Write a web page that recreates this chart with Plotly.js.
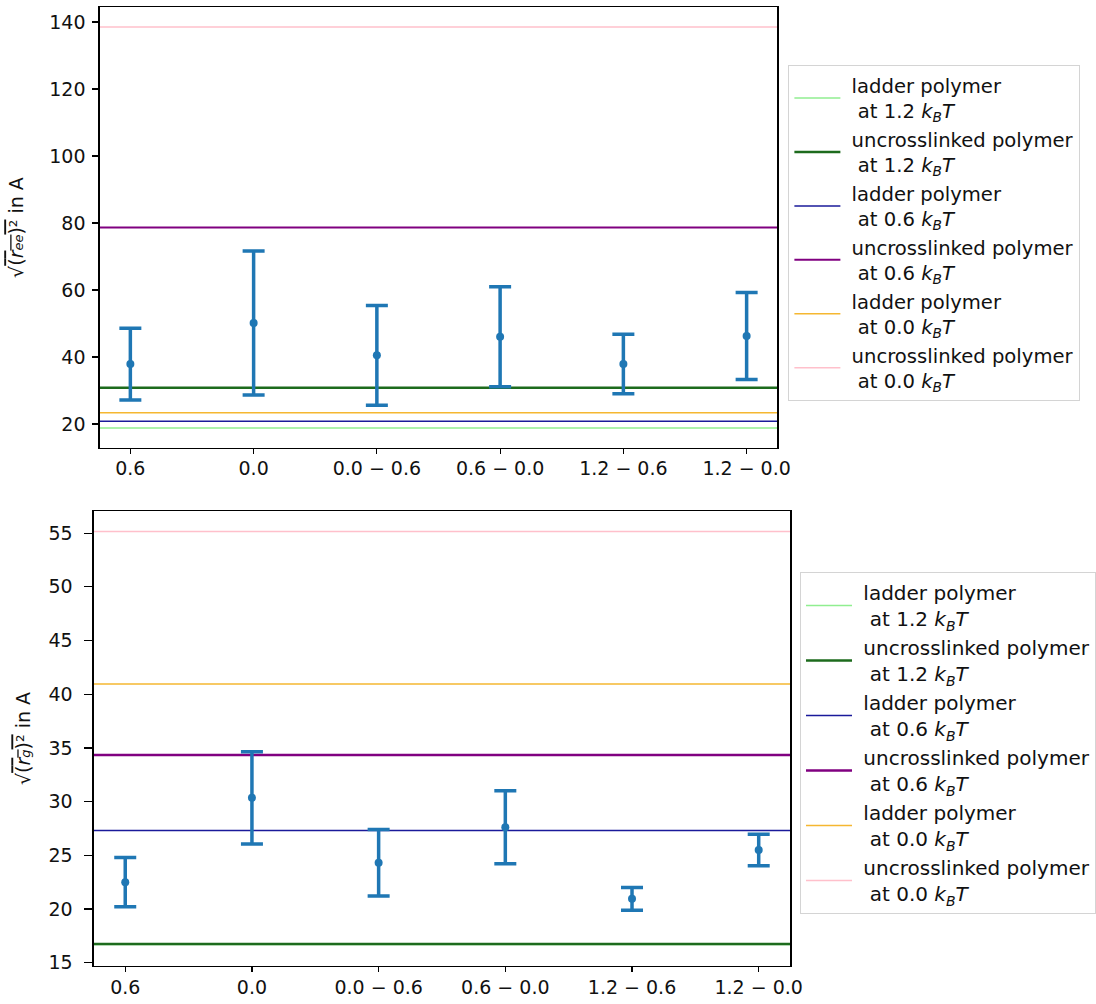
<!DOCTYPE html>
<html>
<head>
<meta charset="utf-8">
<script src="https://cdn.plot.ly/plotly-3.0.1.min.js"></script>
<style>html,body{margin:0;padding:0;background:#fff;}#chart{width:1096px;height:1004px;}</style>
</head>
<body>
<div id="chart"></div>
<script>
// ---- data ----
const categories = ['0.6', '0.0', '0.0 \u2212 0.6', '0.6 \u2212 0.0', '1.2 \u2212 0.6', '1.2 \u2212 0.0'];

// end-to-end distance (top panel)
const reeMean = [37.9, 50.15, 40.5, 46.05, 37.9, 46.3];
const reeErr  = [10.7, 21.5, 14.9, 14.95, 8.9, 13.0];

// radius of gyration (bottom panel)
const rgMean = [22.5, 30.35, 24.3, 27.6, 20.95, 25.5];
const rgErr  = [2.3, 4.3, 3.1, 3.4, 1.06, 1.47];

// reference lines: names, colours and values
const refNames = [
  '\u00a0ladder polymer<br>\u00a0\u00a0at 1.2 <i>k</i><sub><i>B</i></sub><i>T</i>',
  '\u00a0uncrosslinked polymer<br>\u00a0\u00a0at 1.2 <i>k</i><sub><i>B</i></sub><i>T</i>',
  '\u00a0ladder polymer<br>\u00a0\u00a0at 0.6 <i>k</i><sub><i>B</i></sub><i>T</i>',
  '\u00a0uncrosslinked polymer<br>\u00a0\u00a0at 0.6 <i>k</i><sub><i>B</i></sub><i>T</i>',
  '\u00a0ladder polymer<br>\u00a0\u00a0at 0.0 <i>k</i><sub><i>B</i></sub><i>T</i>',
  '\u00a0uncrosslinked polymer<br>\u00a0\u00a0at 0.0 <i>k</i><sub><i>B</i></sub><i>T</i>'
];
const refColors = ['lightgreen', '#1d6b1d', '#1a1a9a', 'purple', '#f5b731', 'pink'];
const reeRef = [18.8, 30.85, 20.8, 78.7, 23.4, 138.5];
const rgRef  = [16.7, 16.75, 27.3, 34.35, 40.95, 55.15];
const reeRefWidth = [1.5, 2.5, 1.5, 2, 1.5, 1.5];
const rgRefWidth  = [1.5, 2.5, 1.5, 2.5, 1.5, 1.5];

const yTicksTop = [20, 40, 60, 80, 100, 120, 140];
const yTicksBottom = [15, 20, 25, 30, 35, 40, 45, 50, 55];

const titleTop = '\u221a<span style="text-decoration:overline">(<i>r</i><span style="font-size:13px"><i>ee</i></span>)\u00b2</span> in A';
const titleBottom = '\u221a<span style="text-decoration:overline">(<i>r</i><span style="font-size:13px"><i>g</i></span>)\u00b2</span> in A';

// ---- build ----
const blue = '#1f77b4';
const FONT = 'DejaVu Sans, sans-serif';

function errTrace(mean, err, xa, ya) {
  return {
    type: 'scatter', mode: 'markers', x: categories, y: mean,
    xaxis: xa, yaxis: ya, showlegend: false, hoverinfo: 'skip',
    marker: {color: blue, size: 8},
    error_y: {type: 'data', array: err, visible: true, color: blue, thickness: 3.5, width: 11}
  };
}

const shapes = [];
function addRefs(vals, widths, xref, yref, legend) {
  vals.forEach((v, i) => {
    shapes.push({
      type: 'line', xref: xref + ' domain', yref: yref,
      x0: 0, x1: 1, y0: v, y1: v, layer: 'below',
      line: {color: refColors[i], width: widths[i]},
      showlegend: true, legend: legend, name: refNames[i], legendrank: i + 1
    });
  });
}
addRefs(reeRef, reeRefWidth, 'x', 'y', 'legend');
addRefs(rgRef, rgRefWidth, 'x2', 'y2', 'legend2');

const axisCommon = {
  showline: true, linecolor: '#000', linewidth: 1.2, mirror: true,
  ticks: 'outside', ticklen: 6, tickwidth: 1.2, tickcolor: '#000',
  ticklabelstandoff: 3,
  showgrid: false, zeroline: false,
  tickfont: {family: FONT, size: 19, color: '#111'}
};

const legendCommon = {
  xanchor: 'left', yanchor: 'top',
  bordercolor: '#d4d4d4', borderwidth: 1, bgcolor: '#fff',
  font: {family: FONT, size: 20, color: '#111'},
  itemwidth: 46
};

const layout = {
  width: 1096, height: 1004,
  margin: {l: 0, r: 0, t: 0, b: 0},
  paper_bgcolor: '#fff', plot_bgcolor: '#fff',
  font: {family: FONT, size: 19, color: '#111'},
  xaxis: Object.assign({}, axisCommon, {
    domain: [100/1096, 781/1096], type: 'category', range: [-0.25, 5.25], anchor: 'y',
    ticklen: 5, ticklabelstandoff: -2
  }),
  yaxis: Object.assign({}, axisCommon, {
    domain: [1 - 448/1004, 1 - 7/1004], range: [12.84, 144.5], tickvals: yTicksTop, anchor: 'x',
    title: {text: titleTop, font: {family: FONT, size: 19, color: '#111'}, standoff: 20}
  }),
  xaxis2: Object.assign({}, axisCommon, {
    domain: [94/1096, 794/1096], type: 'category', range: [-0.25, 5.25], anchor: 'y2',
    ticklen: 5, ticklabelstandoff: -1
  }),
  yaxis2: Object.assign({}, axisCommon, {
    domain: [1 - 966/1004, 1 - 511/1004], range: [14.69, 57.06], tickvals: yTicksBottom, anchor: 'x2',
    ticklen: 8, ticklabelstandoff: 8,
    title: {text: titleBottom, font: {family: FONT, size: 19, color: '#111'}, standoff: 12}
  }),
  legend: Object.assign({}, legendCommon, {x: 792/1096, y: 1 - 65/1004, font: {family: FONT, size: 19.6, color: '#111'}}),
  legend2: Object.assign({}, legendCommon, {x: 804/1096, y: 1 - 572/1004}),
  shapes: shapes
};

Plotly.newPlot('chart', [
  errTrace(reeMean, reeErr, 'x', 'y'),
  errTrace(rgMean, rgErr, 'x2', 'y2')
], layout, {displayModeBar: false, staticPlot: true});
</script>
</body>
</html>
